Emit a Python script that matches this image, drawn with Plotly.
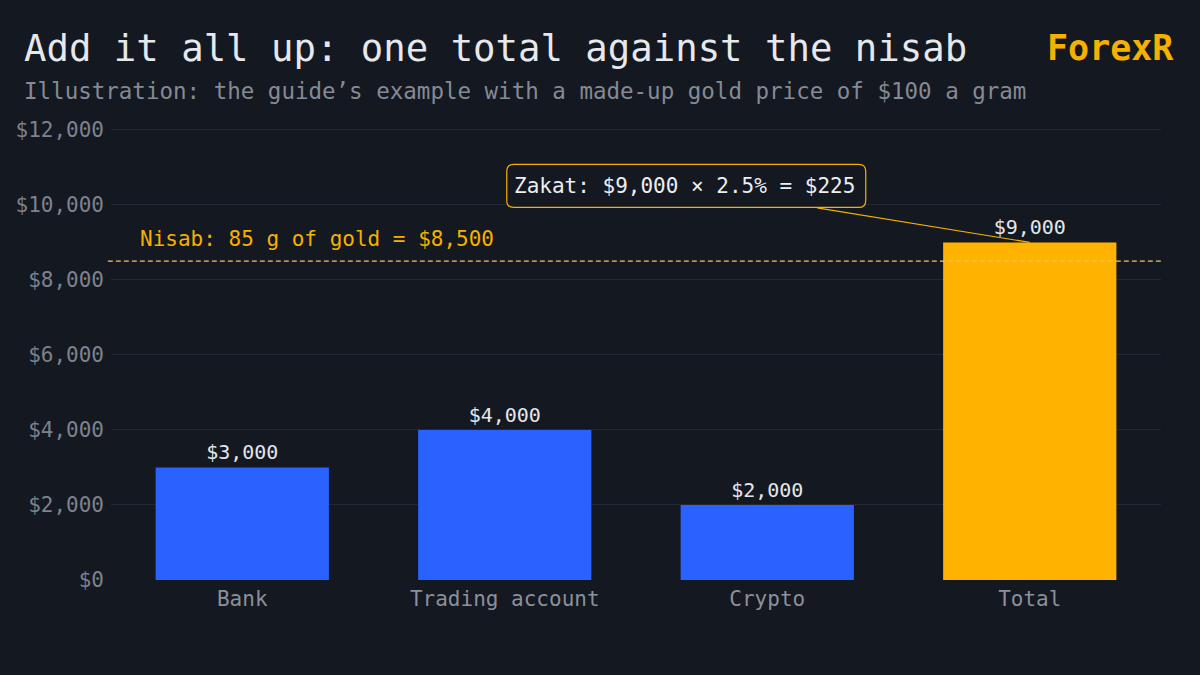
import plotly.graph_objects as go

categories = ["Bank", "Trading account", "Crypto", "Total"]
amounts = [3000, 4000, 2000, 9000]
bar_colors = ["#2962ff", "#2962ff", "#2962ff", "#ffb300"]
nisab_value = 8500
zakat_rate = 0.025
y_ticks = [0, 2000, 4000, 6000, 8000, 10000, 12000]

BG = "#141821"
FONT = "DejaVu Sans Mono"
ORANGE = "#f5b000"

fig = go.Figure()
fig.add_trace(go.Bar(
    x=categories, y=amounts,
    marker=dict(color=bar_colors, line=dict(width=0)),
    width=0.66,
    text=[f"${v:,.0f}" for v in amounts],
    textposition="outside",
    textfont=dict(family=FONT, size=20, color="#e3e6ec"),
    cliponaxis=False,
    hoverinfo="skip",
))

# nisab threshold
fig.add_shape(type="line", xref="paper", x0=-0.003, x1=1, yref="y",
              y0=nisab_value, y1=nisab_value,
              line=dict(color="#f0c75e", width=1.3, dash="5px,3px"), layer="above")
fig.add_annotation(xref="paper", x=0.026, y=nisab_value, yshift=22,
                   text=f"Nisab: 85 g of gold = ${nisab_value:,}",
                   showarrow=False, xanchor="left", yanchor="middle",
                   font=dict(family=FONT, size=21, color=ORANGE))

# zakat callout: rounded box drawn as a pixel-sized shape anchored on the Total bar
total = amounts[-1]
bx0, bx1, by0, by1, r = -523, -164, 35, 78, 7
box_path = (f"M{bx0+r},{by0} L{bx1-r},{by0} Q{bx1},{by0} {bx1},{by0+r} "
            f"L{bx1},{by1-r} Q{bx1},{by1} {bx1-r},{by1} L{bx0+r},{by1} "
            f"Q{bx0},{by1} {bx0},{by1-r} L{bx0},{by0+r} Q{bx0},{by0} {bx0+r},{by0} Z")
fig.add_shape(type="path", xref="x", yref="y", xsizemode="pixel", ysizemode="pixel",
              xanchor="Total", yanchor=total, path=box_path,
              line=dict(color=ORANGE, width=1.2), fillcolor=BG, layer="above")
fig.add_annotation(x="Total", y=total,
                   text=f"Zakat: ${total:,} × {zakat_rate*100:.1f}% = ${total*zakat_rate:,.0f}",
                   showarrow=True, arrowhead=0, arrowwidth=1.2, arrowcolor=ORANGE,
                   ax=-345, ay=-56, borderpad=9,
                   font=dict(family=FONT, size=21, color="#eceef2"))

# titles
fig.add_annotation(xref="paper", yref="paper", x=-0.085, y=1.178,
                   text="Add it all up: one total against the nisab",
                   showarrow=False, xanchor="left", yanchor="middle",
                   font=dict(family=FONT, size=37.3, color="#e6e8ec"))
fig.add_annotation(xref="paper", yref="paper", x=-0.085, y=1.081,
                   text="Illustration: the guide’s example with a made-up gold price of $100 a gram",
                   showarrow=False, xanchor="left", yanchor="middle",
                   font=dict(family=FONT, size=22.5, color="#858a94"))
fig.add_annotation(xref="paper", yref="paper", x=1.0145, y=1.178,
                   text="<b>ForexR</b>",
                   showarrow=False, xanchor="right", yanchor="middle",
                   font=dict(family=FONT, size=35, color=ORANGE))

fig.update_layout(
    width=1200, height=675,
    paper_bgcolor=BG, plot_bgcolor=BG,
    margin=dict(l=111, r=39, t=128, b=95),
    showlegend=False,
    xaxis=dict(tickfont=dict(family=FONT, size=21, color="#8b909a"),
               showgrid=False, showline=False, ticks="", ticklabelstandoff=4),
    yaxis=dict(range=[0, 12050], tickvals=y_ticks,
               ticktext=[f"${v:,}" for v in y_ticks],
               tickfont=dict(family=FONT, size=21, color="#7d828c"),
               gridcolor="#232833", gridwidth=1, zeroline=False,
               showline=False, ticks="", ticklabelstandoff=6),
)

fig.write_html("out.html", config={"displayModeBar": False},
               post_script=f"document.body.style.margin='0';document.body.style.background='{BG}';")
